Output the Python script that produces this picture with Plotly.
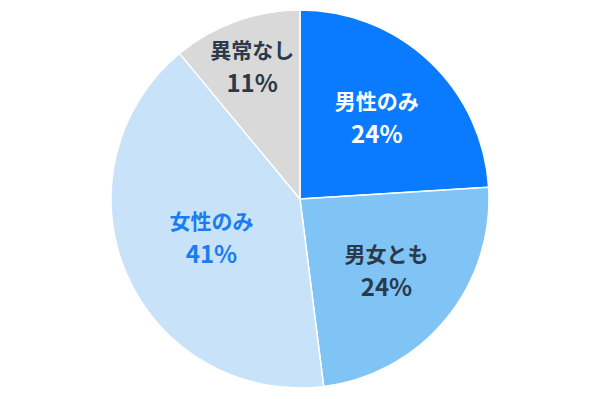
import plotly.graph_objects as go

labels = ["男性のみ", "男女とも", "女性のみ", "異常なし"]
values = [24, 24, 41, 11]
colors = ["#0A7BFF", "#80C3F5", "#C8E3F9", "#D9D9D9"]
text_colors = ["#FFFFFF", "#2B3A4A", "#1A7CF2", "#2B3A4A"]

fig = go.Figure(go.Pie(
    labels=labels,
    values=values,
    sort=False,
    direction="clockwise",
    rotation=0,
    marker=dict(colors=colors, line=dict(color="#FFFFFF", width=1.5)),
    texttemplate="<span style='font-size:21px'><b>%{label}</b></span><br><span style='font-size:24px'><b>%{value}%</b></span>",
    textposition="inside",
    insidetextorientation="horizontal",
    textfont=dict(family="Noto Sans CJK JP", size=26, color=text_colors),
    hoverinfo="skip",
    showlegend=False,
))
fig.update_layout(
    width=600, height=399,
    margin=dict(l=0, r=0, t=10, b=11),
    paper_bgcolor="white",
    plot_bgcolor="white",
    uniformtext=dict(minsize=26, mode="show"),
)
fig.write_html("out.html")
